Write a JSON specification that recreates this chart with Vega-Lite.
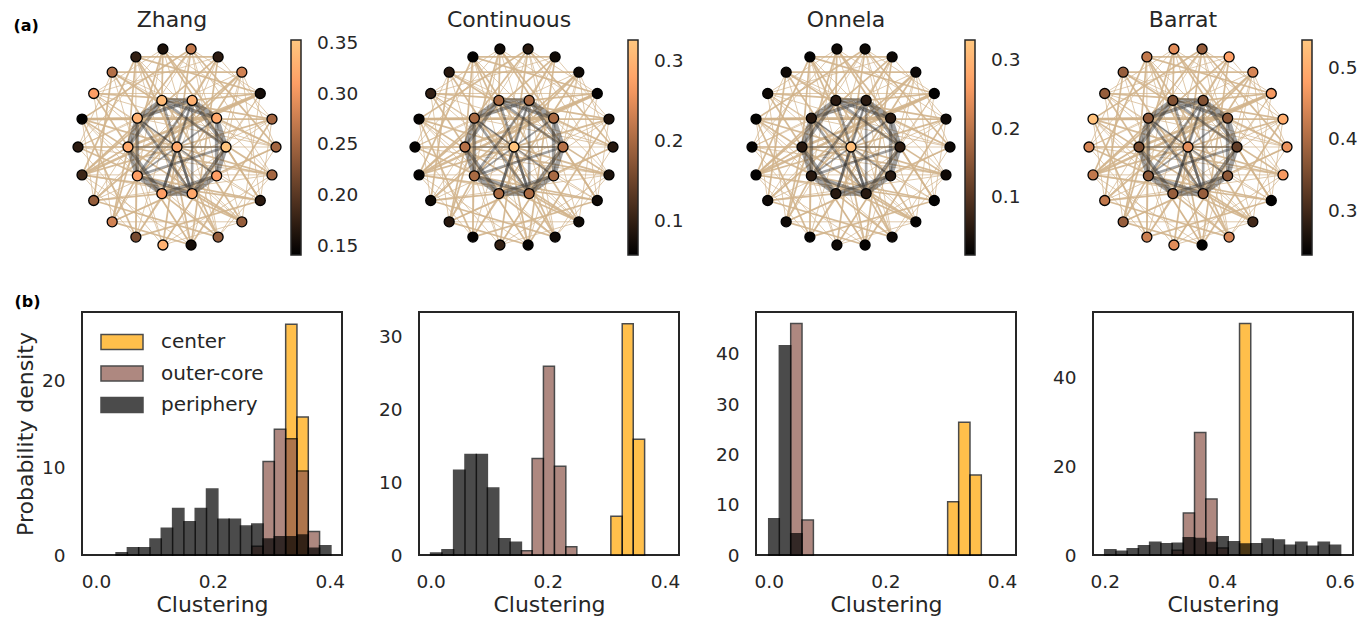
{
  "$schema": "https://vega.github.io/schema/vega-lite/v6.json",
  "background": "white",
  "padding": {"left": 13, "top": 9, "right": 5, "bottom": 5},
  "config": {
    "font": "DejaVu Sans",
    "view": {"stroke": null},
    "title": {"font": "DejaVu Sans", "color": "#262626", "fontWeight": "normal"},
    "axis": {"labelFont": "DejaVu Sans", "titleFont": "DejaVu Sans", "labelFontSize": 18.5, "titleFontSize": 22, "labelColor": "#262626", "titleColor": "#262626", "titleFontWeight": "normal", "ticks": false, "tickSize": 0, "domain": false, "grid": false, "labelPadding": 17, "titlePadding": 4},
    "legend": {"labelFont": "DejaVu Sans", "labelColor": "#262626"}
  },
  "title": {"text": "(a)", "anchor": "start", "frame": "bounds", "fontSize": 16, "fontWeight": "bold", "color": "#000000", "offset": -25},
  "datasets": {
    "nodes": [
      {"id": "o0", "x": 1, "y": 0, "Zhang": 0.25, "Continuous": 0.09, "Onnela": 0.03, "Barrat": 0.46},
      {"id": "o1", "x": 0.9595, "y": 0.2817, "Zhang": 0.25, "Continuous": 0.08, "Onnela": 0.03, "Barrat": 0.5},
      {"id": "o2", "x": 0.8413, "y": 0.5406, "Zhang": 0.155, "Continuous": 0.06, "Onnela": 0.02, "Barrat": 0.47},
      {"id": "o3", "x": 0.6549, "y": 0.7557, "Zhang": 0.28, "Continuous": 0.07, "Onnela": 0.03, "Barrat": 0.44},
      {"id": "o4", "x": 0.4154, "y": 0.9096, "Zhang": 0.17, "Continuous": 0.07, "Onnela": 0.03, "Barrat": 0.48},
      {"id": "o5", "x": 0.1423, "y": 0.9898, "Zhang": 0.27, "Continuous": 0.09, "Onnela": 0.03, "Barrat": 0.38},
      {"id": "o6", "x": -0.1423, "y": 0.9898, "Zhang": 0.16, "Continuous": 0.07, "Onnela": 0.03, "Barrat": 0.45},
      {"id": "o7", "x": -0.4154, "y": 0.9096, "Zhang": 0.175, "Continuous": 0.06, "Onnela": 0.02, "Barrat": 0.42},
      {"id": "o8", "x": -0.6549, "y": 0.7557, "Zhang": 0.26, "Continuous": 0.09, "Onnela": 0.03, "Barrat": 0.38},
      {"id": "o9", "x": -0.8413, "y": 0.5406, "Zhang": 0.31, "Continuous": 0.1, "Onnela": 0.03, "Barrat": 0.38},
      {"id": "o10", "x": -0.9595, "y": 0.2817, "Zhang": 0.143, "Continuous": 0.06, "Onnela": 0.02, "Barrat": 0.53},
      {"id": "o11", "x": -1, "y": 0, "Zhang": 0.17, "Continuous": 0.06, "Onnela": 0.02, "Barrat": 0.44},
      {"id": "o12", "x": -0.9595, "y": -0.2817, "Zhang": 0.18, "Continuous": 0.06, "Onnela": 0.02, "Barrat": 0.42},
      {"id": "o13", "x": -0.8413, "y": -0.5406, "Zhang": 0.24, "Continuous": 0.07, "Onnela": 0.03, "Barrat": 0.42},
      {"id": "o14", "x": -0.6549, "y": -0.7557, "Zhang": 0.28, "Continuous": 0.09, "Onnela": 0.03, "Barrat": 0.38},
      {"id": "o15", "x": -0.4154, "y": -0.9096, "Zhang": 0.22, "Continuous": 0.06, "Onnela": 0.02, "Barrat": 0.43},
      {"id": "o16", "x": -0.1423, "y": -0.9898, "Zhang": 0.33, "Continuous": 0.1, "Onnela": 0.03, "Barrat": 0.45},
      {"id": "o17", "x": 0.1423, "y": -0.9898, "Zhang": 0.155, "Continuous": 0.06, "Onnela": 0.02, "Barrat": 0.24},
      {"id": "o18", "x": 0.4154, "y": -0.9096, "Zhang": 0.24, "Continuous": 0.07, "Onnela": 0.03, "Barrat": 0.44},
      {"id": "o19", "x": 0.6549, "y": -0.7557, "Zhang": 0.24, "Continuous": 0.07, "Onnela": 0.02, "Barrat": 0.3},
      {"id": "o20", "x": 0.8413, "y": -0.5406, "Zhang": 0.17, "Continuous": 0.07, "Onnela": 0.02, "Barrat": 0.24},
      {"id": "o21", "x": 0.9595, "y": -0.2817, "Zhang": 0.25, "Continuous": 0.08, "Onnela": 0.03, "Barrat": 0.47},
      {"id": "i0", "x": 0.495, "y": 0, "Zhang": 0.35, "Continuous": 0.21, "Onnela": 0.06, "Barrat": 0.33},
      {"id": "i1", "x": 0.4005, "y": 0.291, "Zhang": 0.32, "Continuous": 0.2, "Onnela": 0.055, "Barrat": 0.37},
      {"id": "i2", "x": 0.153, "y": 0.4708, "Zhang": 0.33, "Continuous": 0.2, "Onnela": 0.055, "Barrat": 0.36},
      {"id": "i3", "x": -0.153, "y": 0.4708, "Zhang": 0.34, "Continuous": 0.2, "Onnela": 0.055, "Barrat": 0.36},
      {"id": "i4", "x": -0.4005, "y": 0.291, "Zhang": 0.33, "Continuous": 0.2, "Onnela": 0.055, "Barrat": 0.37},
      {"id": "i5", "x": -0.495, "y": 0, "Zhang": 0.32, "Continuous": 0.21, "Onnela": 0.055, "Barrat": 0.35},
      {"id": "i6", "x": -0.4005, "y": -0.291, "Zhang": 0.31, "Continuous": 0.2, "Onnela": 0.055, "Barrat": 0.37},
      {"id": "i7", "x": -0.153, "y": -0.4708, "Zhang": 0.31, "Continuous": 0.2, "Onnela": 0.055, "Barrat": 0.38},
      {"id": "i8", "x": 0.153, "y": -0.4708, "Zhang": 0.32, "Continuous": 0.2, "Onnela": 0.055, "Barrat": 0.38},
      {"id": "i9", "x": 0.4005, "y": -0.291, "Zhang": 0.31, "Continuous": 0.2, "Onnela": 0.055, "Barrat": 0.37},
      {"id": "c", "x": 0, "y": 0, "Zhang": 0.32, "Continuous": 0.32, "Onnela": 0.315, "Barrat": 0.45}
    ],
    "edges": [
      {"s": "o0", "t": "o5", "w": 2, "k": "p"}, {"s": "o0", "t": "o8", "w": 1, "k": "p"}, {"s": "o0", "t": "o14", "w": 2, "k": "p"}, {"s": "o0", "t": "o18", "w": 1, "k": "p"}, {"s": "o0", "t": "i1", "w": 2, "k": "p"}, {"s": "o0", "t": "i4", "w": 1, "k": "p"}, {"s": "o0", "t": "o11", "w": 1, "k": "p"}, {"s": "o0", "t": "o9", "w": 1, "k": "p"},
      {"s": "o1", "t": "o6", "w": 1, "k": "p"}, {"s": "o1", "t": "o10", "w": 2, "k": "p"}, {"s": "o1", "t": "o13", "w": 1, "k": "p"}, {"s": "o1", "t": "o17", "w": 2, "k": "p"}, {"s": "o1", "t": "i3", "w": 2, "k": "p"}, {"s": "o1", "t": "i7", "w": 1, "k": "p"},
      {"s": "o2", "t": "o7", "w": 2, "k": "p"}, {"s": "o2", "t": "o9", "w": 1, "k": "p"}, {"s": "o2", "t": "o12", "w": 3, "k": "p"}, {"s": "o2", "t": "o16", "w": 1, "k": "p"}, {"s": "o2", "t": "o19", "w": 1, "k": "p"}, {"s": "o2", "t": "i5", "w": 3, "k": "p"}, {"s": "o2", "t": "i8", "w": 1, "k": "p"},
      {"s": "o3", "t": "o8", "w": 2, "k": "p"}, {"s": "o3", "t": "o11", "w": 1, "k": "p"}, {"s": "o3", "t": "o15", "w": 2, "k": "p"}, {"s": "o3", "t": "o20", "w": 1, "k": "p"}, {"s": "o3", "t": "i0", "w": 1, "k": "p"}, {"s": "o3", "t": "i6", "w": 2, "k": "p"}, {"s": "o3", "t": "o17", "w": 1, "k": "p"},
      {"s": "o4", "t": "o9", "w": 1, "k": "p"}, {"s": "o4", "t": "o12", "w": 2, "k": "p"}, {"s": "o4", "t": "o14", "w": 1, "k": "p"}, {"s": "o4", "t": "o17", "w": 2, "k": "p"}, {"s": "o4", "t": "i2", "w": 2, "k": "p"}, {"s": "o4", "t": "i7", "w": 1, "k": "p"},
      {"s": "o5", "t": "o10", "w": 2, "k": "p"}, {"s": "o5", "t": "o13", "w": 1, "k": "p"}, {"s": "o5", "t": "o16", "w": 2, "k": "p"}, {"s": "o5", "t": "o19", "w": 1, "k": "p"}, {"s": "o5", "t": "i4", "w": 2, "k": "p"}, {"s": "o5", "t": "i9", "w": 1, "k": "p"},
      {"s": "o6", "t": "o11", "w": 1, "k": "p"}, {"s": "o6", "t": "o14", "w": 2, "k": "p"}, {"s": "o6", "t": "o18", "w": 1, "k": "p"}, {"s": "o6", "t": "o20", "w": 2, "k": "p"}, {"s": "o6", "t": "i1", "w": 2, "k": "p"}, {"s": "o6", "t": "i6", "w": 1, "k": "p"},
      {"s": "o7", "t": "o12", "w": 2, "k": "p"}, {"s": "o7", "t": "o15", "w": 1, "k": "p"}, {"s": "o7", "t": "o19", "w": 2, "k": "p"}, {"s": "o7", "t": "i0", "w": 1, "k": "p"}, {"s": "o7", "t": "i5", "w": 2, "k": "p"},
      {"s": "o8", "t": "o13", "w": 2, "k": "p"}, {"s": "o8", "t": "o16", "w": 1, "k": "p"}, {"s": "o8", "t": "o21", "w": 2, "k": "p"}, {"s": "o8", "t": "i3", "w": 1, "k": "p"}, {"s": "o8", "t": "i8", "w": 2, "k": "p"},
      {"s": "o9", "t": "o14", "w": 1, "k": "p"}, {"s": "o9", "t": "o17", "w": 2, "k": "p"}, {"s": "o9", "t": "o20", "w": 1, "k": "p"}, {"s": "o9", "t": "i2", "w": 2, "k": "p"}, {"s": "o9", "t": "i9", "w": 1, "k": "p"},
      {"s": "o10", "t": "o15", "w": 2, "k": "p"}, {"s": "o10", "t": "o18", "w": 1, "k": "p"}, {"s": "o10", "t": "o21", "w": 2, "k": "p"}, {"s": "o10", "t": "i1", "w": 3, "k": "p"}, {"s": "o10", "t": "i6", "w": 1, "k": "p"},
      {"s": "o11", "t": "o16", "w": 1, "k": "p"}, {"s": "o11", "t": "o19", "w": 2, "k": "p"}, {"s": "o11", "t": "i0", "w": 2, "k": "p"}, {"s": "o11", "t": "i4", "w": 1, "k": "p"},
      {"s": "o12", "t": "o17", "w": 1, "k": "p"}, {"s": "o12", "t": "o20", "w": 2, "k": "p"}, {"s": "o12", "t": "i3", "w": 2, "k": "p"}, {"s": "o12", "t": "i8", "w": 1, "k": "p"},
      {"s": "o13", "t": "o18", "w": 2, "k": "p"}, {"s": "o13", "t": "o21", "w": 1, "k": "p"}, {"s": "o13", "t": "i2", "w": 1, "k": "p"}, {"s": "o13", "t": "i7", "w": 2, "k": "p"},
      {"s": "o14", "t": "o19", "w": 1, "k": "p"}, {"s": "o14", "t": "i5", "w": 2, "k": "p"}, {"s": "o14", "t": "i9", "w": 1, "k": "p"},
      {"s": "o15", "t": "o20", "w": 2, "k": "p"}, {"s": "o15", "t": "i1", "w": 1, "k": "p"}, {"s": "o15", "t": "i4", "w": 2, "k": "p"},
      {"s": "o16", "t": "o21", "w": 1, "k": "p"}, {"s": "o16", "t": "i0", "w": 2, "k": "p"}, {"s": "o16", "t": "i6", "w": 1, "k": "p"},
      {"s": "o17", "t": "i3", "w": 2, "k": "p"}, {"s": "o17", "t": "i5", "w": 1, "k": "p"},
      {"s": "o18", "t": "i2", "w": 1, "k": "p"}, {"s": "o18", "t": "i7", "w": 2, "k": "p"},
      {"s": "o19", "t": "i4", "w": 1, "k": "p"}, {"s": "o19", "t": "i8", "w": 2, "k": "p"},
      {"s": "o20", "t": "i6", "w": 2, "k": "p"}, {"s": "o20", "t": "i9", "w": 1, "k": "p"},
      {"s": "o21", "t": "i1", "w": 1, "k": "p"}, {"s": "o21", "t": "i5", "w": 2, "k": "p"},
      {"s": "o0", "t": "o3", "w": 1, "k": "p"}, {"s": "o1", "t": "o4", "w": 1, "k": "p"}, {"s": "o2", "t": "o5", "w": 1, "k": "p"}, {"s": "o4", "t": "o7", "w": 2, "k": "p"},
      {"s": "o6", "t": "o9", "w": 1, "k": "p"}, {"s": "o8", "t": "o11", "w": 1, "k": "p"}, {"s": "o10", "t": "o13", "w": 1, "k": "p"}, {"s": "o12", "t": "o15", "w": 1, "k": "p"},
      {"s": "o14", "t": "o17", "w": 2, "k": "p"}, {"s": "o16", "t": "o19", "w": 1, "k": "p"}, {"s": "o18", "t": "o21", "w": 1, "k": "p"}, {"s": "o20", "t": "o1", "w": 1, "k": "p"},
      {"s": "o1", "t": "o12", "w": 2, "k": "p"}, {"s": "o3", "t": "o13", "w": 2, "k": "p"}, {"s": "o5", "t": "o21", "w": 1, "k": "p"}, {"s": "o7", "t": "o18", "w": 2, "k": "p"},
      {"s": "o9", "t": "o19", "w": 1, "k": "p"}, {"s": "o11", "t": "o21", "w": 1, "k": "p"}, {"s": "o5", "t": "o15", "w": 1, "k": "p"}, {"s": "o7", "t": "o17", "w": 1, "k": "p"},
      {"s": "o10", "t": "o19", "w": 2, "k": "p"}, {"s": "o12", "t": "o21", "w": 1, "k": "p"},
      {"s": "o2", "t": "i2", "w": 2, "k": "p"}, {"s": "o6", "t": "i3", "w": 2, "k": "p"}, {"s": "o10", "t": "i4", "w": 2, "k": "p"}, {"s": "o14", "t": "i6", "w": 2, "k": "p"},
      {"s": "o18", "t": "i8", "w": 2, "k": "p"}, {"s": "o20", "t": "i0", "w": 2, "k": "p"}, {"s": "o0", "t": "i9", "w": 1, "k": "p"}, {"s": "o12", "t": "i5", "w": 2, "k": "p"},
      {"s": "i0", "t": "i1", "w": 5, "k": "c"}, {"s": "i1", "t": "i2", "w": 5, "k": "c"}, {"s": "i2", "t": "i3", "w": 5, "k": "c"}, {"s": "i3", "t": "i4", "w": 5, "k": "c"}, {"s": "i4", "t": "i5", "w": 5, "k": "c"},
      {"s": "i5", "t": "i6", "w": 5, "k": "c"}, {"s": "i6", "t": "i7", "w": 5, "k": "c"}, {"s": "i7", "t": "i8", "w": 5, "k": "c"}, {"s": "i8", "t": "i9", "w": 5, "k": "c"}, {"s": "i9", "t": "i0", "w": 5, "k": "c"},
      {"s": "i0", "t": "i2", "w": 4, "k": "c"}, {"s": "i1", "t": "i3", "w": 4, "k": "c"}, {"s": "i2", "t": "i4", "w": 4, "k": "c"}, {"s": "i3", "t": "i5", "w": 4, "k": "c"}, {"s": "i4", "t": "i6", "w": 4, "k": "c"},
      {"s": "i5", "t": "i7", "w": 4, "k": "c"}, {"s": "i6", "t": "i8", "w": 4, "k": "c"}, {"s": "i7", "t": "i9", "w": 4, "k": "c"}, {"s": "i8", "t": "i0", "w": 4, "k": "c"}, {"s": "i9", "t": "i1", "w": 4, "k": "c"},
      {"s": "i0", "t": "i5", "w": 1, "k": "c"}, {"s": "i1", "t": "i6", "w": 2, "k": "c"}, {"s": "i2", "t": "i7", "w": 3, "k": "c"}, {"s": "i3", "t": "i8", "w": 3, "k": "c"}, {"s": "i4", "t": "i9", "w": 2, "k": "c"},
      {"s": "i0", "t": "i3", "w": 3, "k": "c"}, {"s": "i2", "t": "i6", "w": 3, "k": "c"}, {"s": "i4", "t": "i8", "w": 3, "k": "c"}, {"s": "i6", "t": "i0", "w": 3, "k": "c"}, {"s": "i8", "t": "i2", "w": 3, "k": "c"},
      {"s": "c", "t": "i0", "w": 1, "k": "c"}, {"s": "c", "t": "i2", "w": 1, "k": "c"}, {"s": "c", "t": "i4", "w": 1, "k": "c"}, {"s": "c", "t": "i5", "w": 1, "k": "c"},
      {"s": "c", "t": "i7", "w": 3, "k": "c"}, {"s": "c", "t": "i8", "w": 3, "k": "c"}
    ],
    "hist": [
      {"p": "Zhang", "g": "center", "x0": 0.3246, "x1": 0.3439, "d": 26.4},
      {"p": "Zhang", "g": "center", "x0": 0.3439, "x1": 0.3633, "d": 15.8},
      {"p": "Zhang", "g": "outer-core", "x0": 0.2665, "x1": 0.2859, "d": 1.0},
      {"p": "Zhang", "g": "outer-core", "x0": 0.2859, "x1": 0.3052, "d": 10.7},
      {"p": "Zhang", "g": "outer-core", "x0": 0.3052, "x1": 0.3246, "d": 14.4},
      {"p": "Zhang", "g": "outer-core", "x0": 0.3246, "x1": 0.3439, "d": 13.3},
      {"p": "Zhang", "g": "outer-core", "x0": 0.3439, "x1": 0.3633, "d": 9.6},
      {"p": "Zhang", "g": "outer-core", "x0": 0.3633, "x1": 0.3826, "d": 2.7},
      {"p": "Zhang", "g": "periphery", "x0": 0.0343, "x1": 0.0537, "d": 0.27},
      {"p": "Zhang", "g": "periphery", "x0": 0.0537, "x1": 0.073, "d": 0.84},
      {"p": "Zhang", "g": "periphery", "x0": 0.073, "x1": 0.0924, "d": 0.84},
      {"p": "Zhang", "g": "periphery", "x0": 0.0924, "x1": 0.1117, "d": 1.83},
      {"p": "Zhang", "g": "periphery", "x0": 0.1117, "x1": 0.1311, "d": 3.05},
      {"p": "Zhang", "g": "periphery", "x0": 0.1311, "x1": 0.1504, "d": 5.33},
      {"p": "Zhang", "g": "periphery", "x0": 0.1504, "x1": 0.1698, "d": 3.81},
      {"p": "Zhang", "g": "periphery", "x0": 0.1698, "x1": 0.1891, "d": 5.33},
      {"p": "Zhang", "g": "periphery", "x0": 0.1891, "x1": 0.2085, "d": 7.54},
      {"p": "Zhang", "g": "periphery", "x0": 0.2085, "x1": 0.2278, "d": 4.08},
      {"p": "Zhang", "g": "periphery", "x0": 0.2278, "x1": 0.2472, "d": 4.08},
      {"p": "Zhang", "g": "periphery", "x0": 0.2472, "x1": 0.2665, "d": 3.31},
      {"p": "Zhang", "g": "periphery", "x0": 0.2665, "x1": 0.2859, "d": 3.54},
      {"p": "Zhang", "g": "periphery", "x0": 0.2859, "x1": 0.3052, "d": 1.83},
      {"p": "Zhang", "g": "periphery", "x0": 0.3052, "x1": 0.3246, "d": 2.1},
      {"p": "Zhang", "g": "periphery", "x0": 0.3246, "x1": 0.3439, "d": 2.1},
      {"p": "Zhang", "g": "periphery", "x0": 0.3439, "x1": 0.3633, "d": 2.29},
      {"p": "Zhang", "g": "periphery", "x0": 0.3633, "x1": 0.3826, "d": 0.76},
      {"p": "Zhang", "g": "periphery", "x0": 0.3826, "x1": 0.402, "d": 1.07},
      {"p": "Continuous", "g": "center", "x0": 0.3077, "x1": 0.3271, "d": 5.32},
      {"p": "Continuous", "g": "center", "x0": 0.3271, "x1": 0.3459, "d": 31.8},
      {"p": "Continuous", "g": "center", "x0": 0.3459, "x1": 0.3653, "d": 15.9},
      {"p": "Continuous", "g": "outer-core", "x0": 0.155, "x1": 0.1733, "d": 0.6},
      {"p": "Continuous", "g": "outer-core", "x0": 0.1733, "x1": 0.1926, "d": 13.26},
      {"p": "Continuous", "g": "outer-core", "x0": 0.1926, "x1": 0.2114, "d": 25.96},
      {"p": "Continuous", "g": "outer-core", "x0": 0.2114, "x1": 0.2308, "d": 12.2},
      {"p": "Continuous", "g": "outer-core", "x0": 0.2308, "x1": 0.2496, "d": 1.15},
      {"p": "Continuous", "g": "periphery", "x0": 0.0, "x1": 0.0194, "d": 0.28},
      {"p": "Continuous", "g": "periphery", "x0": 0.0194, "x1": 0.0393, "d": 0.73},
      {"p": "Continuous", "g": "periphery", "x0": 0.0393, "x1": 0.0587, "d": 11.65},
      {"p": "Continuous", "g": "periphery", "x0": 0.0587, "x1": 0.0781, "d": 13.8},
      {"p": "Continuous", "g": "periphery", "x0": 0.0781, "x1": 0.0969, "d": 13.8},
      {"p": "Continuous", "g": "periphery", "x0": 0.0969, "x1": 0.1163, "d": 9.2},
      {"p": "Continuous", "g": "periphery", "x0": 0.1163, "x1": 0.1357, "d": 2.25},
      {"p": "Continuous", "g": "periphery", "x0": 0.1357, "x1": 0.155, "d": 1.74},
      {"p": "Onnela", "g": "center", "x0": 0.3068, "x1": 0.3257, "d": 10.6},
      {"p": "Onnela", "g": "center", "x0": 0.3257, "x1": 0.3451, "d": 26.4},
      {"p": "Onnela", "g": "center", "x0": 0.3451, "x1": 0.3645, "d": 15.9},
      {"p": "Onnela", "g": "outer-core", "x0": 0.0377, "x1": 0.0571, "d": 46.0},
      {"p": "Onnela", "g": "outer-core", "x0": 0.0571, "x1": 0.0766, "d": 6.95},
      {"p": "Onnela", "g": "periphery", "x0": 0.0, "x1": 0.0182, "d": 7.2},
      {"p": "Onnela", "g": "periphery", "x0": 0.0182, "x1": 0.0377, "d": 41.6},
      {"p": "Onnela", "g": "periphery", "x0": 0.0377, "x1": 0.0571, "d": 4.2},
      {"p": "Barrat", "g": "center", "x0": 0.4296, "x1": 0.4487, "d": 52.3},
      {"p": "Barrat", "g": "outer-core", "x0": 0.3148, "x1": 0.3339, "d": 1.05},
      {"p": "Barrat", "g": "outer-core", "x0": 0.3339, "x1": 0.353, "d": 9.5},
      {"p": "Barrat", "g": "outer-core", "x0": 0.353, "x1": 0.3722, "d": 27.7},
      {"p": "Barrat", "g": "outer-core", "x0": 0.3722, "x1": 0.3913, "d": 12.65},
      {"p": "Barrat", "g": "outer-core", "x0": 0.3913, "x1": 0.4104, "d": 1.6},
      {"p": "Barrat", "g": "periphery", "x0": 0.2, "x1": 0.2191, "d": 1.2},
      {"p": "Barrat", "g": "periphery", "x0": 0.2191, "x1": 0.2383, "d": 0.83},
      {"p": "Barrat", "g": "periphery", "x0": 0.2383, "x1": 0.2574, "d": 1.43},
      {"p": "Barrat", "g": "periphery", "x0": 0.2574, "x1": 0.2765, "d": 2.1},
      {"p": "Barrat", "g": "periphery", "x0": 0.2765, "x1": 0.2957, "d": 2.86},
      {"p": "Barrat", "g": "periphery", "x0": 0.2957, "x1": 0.3148, "d": 2.56},
      {"p": "Barrat", "g": "periphery", "x0": 0.3148, "x1": 0.3339, "d": 2.64},
      {"p": "Barrat", "g": "periphery", "x0": 0.3339, "x1": 0.353, "d": 3.9},
      {"p": "Barrat", "g": "periphery", "x0": 0.353, "x1": 0.3722, "d": 3.7},
      {"p": "Barrat", "g": "periphery", "x0": 0.3722, "x1": 0.3913, "d": 2.8},
      {"p": "Barrat", "g": "periphery", "x0": 0.3913, "x1": 0.4104, "d": 4.14},
      {"p": "Barrat", "g": "periphery", "x0": 0.4104, "x1": 0.4296, "d": 3.0},
      {"p": "Barrat", "g": "periphery", "x0": 0.4296, "x1": 0.4487, "d": 2.5},
      {"p": "Barrat", "g": "periphery", "x0": 0.4487, "x1": 0.4678, "d": 2.56},
      {"p": "Barrat", "g": "periphery", "x0": 0.4678, "x1": 0.487, "d": 3.6},
      {"p": "Barrat", "g": "periphery", "x0": 0.487, "x1": 0.5061, "d": 3.4},
      {"p": "Barrat", "g": "periphery", "x0": 0.5061, "x1": 0.5252, "d": 2.2},
      {"p": "Barrat", "g": "periphery", "x0": 0.5252, "x1": 0.5443, "d": 2.86},
      {"p": "Barrat", "g": "periphery", "x0": 0.5443, "x1": 0.5635, "d": 1.96},
      {"p": "Barrat", "g": "periphery", "x0": 0.5635, "x1": 0.5826, "d": 2.86},
      {"p": "Barrat", "g": "periphery", "x0": 0.5826, "x1": 0.6017, "d": 2.2}
    ]
  },
  "columns": 4,
  "spacing": {"row": 57, "column": 77},
  "bounds": "flush",
  "resolve": {"scale": {"color": "independent", "opacity": "independent", "strokeWidth": "independent", "x": "independent", "y": "independent"}},
  "concat": [
    {
      "width": 180, "height": 215,
      "title": {"text": "Zhang", "fontSize": 22, "offset": 8},
      "resolve": {"scale": {"color": "independent"}},
      "layer": [
        {
          "data": {"name": "edges"},
          "transform": [
            {"lookup": "s", "from": {"data": {"name": "nodes"}, "key": "id", "fields": ["x", "y"]}, "as": ["sx", "sy"]},
            {"lookup": "t", "from": {"data": {"name": "nodes"}, "key": "id", "fields": ["x", "y"]}, "as": ["tx", "ty"]}
          ],
          "mark": {"type": "rule"},
          "encoding": {
            "x": {"field": "sx", "type": "quantitative", "scale": {"domain": [-0.9596, 0.8586], "nice": false, "zero": false}, "axis": null},
            "y": {"field": "sy", "type": "quantitative", "scale": {"domain": [-1.0909, 1.0808], "nice": false, "zero": false}, "axis": null},
            "x2": {"field": "tx"}, "y2": {"field": "ty"},
            "color": {"field": "k", "type": "nominal", "scale": {"domain": ["p", "c"], "range": ["#d2b48c", "#333333"]}, "legend": null},
            "opacity": {"field": "k", "type": "nominal", "scale": {"domain": ["p", "c"], "range": [0.9, 0.45]}, "legend": null},
            "strokeWidth": {"field": "w", "type": "quantitative", "scale": {"domain": [1, 5], "range": [0.8, 4.5]}, "legend": null}
          }
        },
        {
          "data": {"name": "nodes"},
          "mark": {"type": "circle", "size": 100, "stroke": "#000000", "strokeWidth": 1.3, "opacity": 1},
          "encoding": {
            "x": {"field": "x", "type": "quantitative", "axis": null},
            "y": {"field": "y", "type": "quantitative", "axis": null},
            "color": {"field": "Zhang", "type": "quantitative", "scale": {"domain": [0.141, 0.3106, 0.353], "range": ["#000000", "#ff9f65", "#ffc77f"], "interpolate": "rgb"},
              "legend": {"title": null, "direction": "vertical", "orient": "right", "offset": 29, "padding": 0, "gradientLength": 215, "gradientThickness": 10, "gradientStrokeColor": "#262626", "gradientStrokeWidth": 1.5, "labelFontSize": 18.5, "labelOffset": 16, "labelOverlap": false, "values": [0.15, 0.2, 0.25, 0.3, 0.35], "format": ".2f"}}
          }
        }
      ]
    },
    {
      "width": 180, "height": 215,
      "title": {"text": "Continuous", "fontSize": 22, "offset": 8},
      "resolve": {"scale": {"color": "independent"}},
      "layer": [
        {
          "data": {"name": "edges"},
          "transform": [
            {"lookup": "s", "from": {"data": {"name": "nodes"}, "key": "id", "fields": ["x", "y"]}, "as": ["sx", "sy"]},
            {"lookup": "t", "from": {"data": {"name": "nodes"}, "key": "id", "fields": ["x", "y"]}, "as": ["tx", "ty"]}
          ],
          "mark": {"type": "rule"},
          "encoding": {
            "x": {"field": "sx", "type": "quantitative", "scale": {"domain": [-0.9596, 0.8586], "nice": false, "zero": false}, "axis": null},
            "y": {"field": "sy", "type": "quantitative", "scale": {"domain": [-1.0909, 1.0808], "nice": false, "zero": false}, "axis": null},
            "x2": {"field": "tx"}, "y2": {"field": "ty"},
            "color": {"field": "k", "type": "nominal", "scale": {"domain": ["p", "c"], "range": ["#d2b48c", "#333333"]}, "legend": null},
            "opacity": {"field": "k", "type": "nominal", "scale": {"domain": ["p", "c"], "range": [0.9, 0.45]}, "legend": null},
            "strokeWidth": {"field": "w", "type": "quantitative", "scale": {"domain": [1, 5], "range": [0.8, 4.5]}, "legend": null}
          }
        },
        {
          "data": {"name": "nodes"},
          "mark": {"type": "circle", "size": 100, "stroke": "#000000", "strokeWidth": 1.3, "opacity": 1},
          "encoding": {
            "x": {"field": "x", "type": "quantitative", "axis": null},
            "y": {"field": "y", "type": "quantitative", "axis": null},
            "color": {"field": "Continuous", "type": "quantitative", "scale": {"domain": [0.057, 0.2722, 0.326], "range": ["#000000", "#ff9f65", "#ffc77f"], "interpolate": "rgb"},
              "legend": {"title": null, "direction": "vertical", "orient": "right", "offset": 29, "padding": 0, "gradientLength": 215, "gradientThickness": 10, "gradientStrokeColor": "#262626", "gradientStrokeWidth": 1.5, "labelFontSize": 18.5, "labelOffset": 16, "labelOverlap": false, "values": [0.1, 0.2, 0.3], "format": ".1f"}}
          }
        }
      ]
    },
    {
      "width": 180, "height": 215,
      "title": {"text": "Onnela", "fontSize": 22, "offset": 8},
      "resolve": {"scale": {"color": "independent"}},
      "layer": [
        {
          "data": {"name": "edges"},
          "transform": [
            {"lookup": "s", "from": {"data": {"name": "nodes"}, "key": "id", "fields": ["x", "y"]}, "as": ["sx", "sy"]},
            {"lookup": "t", "from": {"data": {"name": "nodes"}, "key": "id", "fields": ["x", "y"]}, "as": ["tx", "ty"]}
          ],
          "mark": {"type": "rule"},
          "encoding": {
            "x": {"field": "sx", "type": "quantitative", "scale": {"domain": [-0.9596, 0.8586], "nice": false, "zero": false}, "axis": null},
            "y": {"field": "sy", "type": "quantitative", "scale": {"domain": [-1.0909, 1.0808], "nice": false, "zero": false}, "axis": null},
            "x2": {"field": "tx"}, "y2": {"field": "ty"},
            "color": {"field": "k", "type": "nominal", "scale": {"domain": ["p", "c"], "range": ["#d2b48c", "#333333"]}, "legend": null},
            "opacity": {"field": "k", "type": "nominal", "scale": {"domain": ["p", "c"], "range": [0.9, 0.45]}, "legend": null},
            "strokeWidth": {"field": "w", "type": "quantitative", "scale": {"domain": [1, 5], "range": [0.8, 4.5]}, "legend": null}
          }
        },
        {
          "data": {"name": "nodes"},
          "mark": {"type": "circle", "size": 100, "stroke": "#000000", "strokeWidth": 1.3, "opacity": 1},
          "encoding": {
            "x": {"field": "x", "type": "quantitative", "axis": null},
            "y": {"field": "y", "type": "quantitative", "axis": null},
            "color": {"field": "Onnela", "type": "quantitative", "scale": {"domain": [0.016, 0.2664, 0.329], "range": ["#000000", "#ff9f65", "#ffc77f"], "interpolate": "rgb"},
              "legend": {"title": null, "direction": "vertical", "orient": "right", "offset": 29, "padding": 0, "gradientLength": 215, "gradientThickness": 10, "gradientStrokeColor": "#262626", "gradientStrokeWidth": 1.5, "labelFontSize": 18.5, "labelOffset": 16, "labelOverlap": false, "values": [0.1, 0.2, 0.3], "format": ".1f"}}
          }
        }
      ]
    },
    {
      "width": 180, "height": 215,
      "title": {"text": "Barrat", "fontSize": 22, "offset": 8},
      "resolve": {"scale": {"color": "independent"}},
      "layer": [
        {
          "data": {"name": "edges"},
          "transform": [
            {"lookup": "s", "from": {"data": {"name": "nodes"}, "key": "id", "fields": ["x", "y"]}, "as": ["sx", "sy"]},
            {"lookup": "t", "from": {"data": {"name": "nodes"}, "key": "id", "fields": ["x", "y"]}, "as": ["tx", "ty"]}
          ],
          "mark": {"type": "rule"},
          "encoding": {
            "x": {"field": "sx", "type": "quantitative", "scale": {"domain": [-0.9596, 0.8586], "nice": false, "zero": false}, "axis": null},
            "y": {"field": "sy", "type": "quantitative", "scale": {"domain": [-1.0909, 1.0808], "nice": false, "zero": false}, "axis": null},
            "x2": {"field": "tx"}, "y2": {"field": "ty"},
            "color": {"field": "k", "type": "nominal", "scale": {"domain": ["p", "c"], "range": ["#d2b48c", "#333333"]}, "legend": null},
            "opacity": {"field": "k", "type": "nominal", "scale": {"domain": ["p", "c"], "range": [0.9, 0.45]}, "legend": null},
            "strokeWidth": {"field": "w", "type": "quantitative", "scale": {"domain": [1, 5], "range": [0.8, 4.5]}, "legend": null}
          }
        },
        {
          "data": {"name": "nodes"},
          "mark": {"type": "circle", "size": 100, "stroke": "#000000", "strokeWidth": 1.3, "opacity": 1},
          "encoding": {
            "x": {"field": "x", "type": "quantitative", "axis": null},
            "y": {"field": "y", "type": "quantitative", "axis": null},
            "color": {"field": "Barrat", "type": "quantitative", "scale": {"domain": [0.238, 0.4788, 0.539], "range": ["#000000", "#ff9f65", "#ffc77f"], "interpolate": "rgb"},
              "legend": {"title": null, "direction": "vertical", "orient": "right", "offset": 29, "padding": 0, "gradientLength": 215, "gradientThickness": 10, "gradientStrokeColor": "#262626", "gradientStrokeWidth": 1.5, "labelFontSize": 18.5, "labelOffset": 16, "labelOverlap": false, "values": [0.3, 0.4, 0.5], "format": ".1f"}}
          }
        }
      ]
    },
    {
      "width": 260, "height": 243,
      "title": {"text": "(b)", "anchor": "start", "frame": "bounds", "fontSize": 16, "fontWeight": "bold", "color": "#000000", "offset": 2},
      "view": {"stroke": "#262626", "strokeWidth": 2},
      "data": {"name": "hist"},
      "transform": [{"filter": {"field": "p", "equal": "Zhang"}}],
      "mark": {"type": "rect", "opacity": 0.7, "stroke": "#000000", "strokeWidth": 1.5},
      "encoding": {
        "x": {"field": "x0", "type": "quantitative", "scale": {"domain": [-0.024, 0.421], "nice": false, "zero": false}, "axis": {"values": [0, 0.2, 0.4], "format": ".1f", "title": "Clustering"}},
        "x2": {"field": "x1"},
        "y": {"field": "d", "type": "quantitative", "scale": {"domain": [0, 27.8], "nice": false}, "axis": {"values": [0, 10, 20], "title": "Probability density"}},
        "y2": {"datum": 0},
        "color": {"field": "g", "type": "nominal", "scale": {"domain": ["center", "outer-core", "periphery"], "range": ["#ffa500", "#8c564b", "#000000"]},
          "legend": {"title": null, "orient": "none", "legendX": 24, "legendY": 14, "padding": 0, "symbolType": "M-1.4,-0.5H1.4V0.5H-1.4Z", "symbolSize": 900, "symbolOpacity": 0.7, "symbolStrokeColor": "#000000", "symbolStrokeWidth": 1.5, "labelFontSize": 20, "labelOffset": 23, "rowPadding": 4.5}}
      }
    },
    {
      "width": 260, "height": 243,
      "view": {"stroke": "#262626", "strokeWidth": 2},
      "data": {"name": "hist"},
      "transform": [{"filter": {"field": "p", "equal": "Continuous"}}],
      "mark": {"type": "rect", "opacity": 0.7, "stroke": "#000000", "strokeWidth": 1.5},
      "encoding": {
        "x": {"field": "x0", "type": "quantitative", "scale": {"domain": [-0.0198, 0.424], "nice": false, "zero": false}, "axis": {"values": [0, 0.2, 0.4], "format": ".1f", "title": "Clustering"}},
        "x2": {"field": "x1"},
        "y": {"field": "d", "type": "quantitative", "scale": {"domain": [0, 33.4], "nice": false}, "axis": {"values": [0, 10, 20, 30], "title": null}},
        "y2": {"datum": 0},
        "color": {"field": "g", "type": "nominal", "scale": {"domain": ["center", "outer-core", "periphery"], "range": ["#ffa500", "#8c564b", "#000000"]}, "legend": null}
      }
    },
    {
      "width": 260, "height": 243,
      "view": {"stroke": "#262626", "strokeWidth": 2},
      "data": {"name": "hist"},
      "transform": [{"filter": {"field": "p", "equal": "Onnela"}}],
      "mark": {"type": "rect", "opacity": 0.7, "stroke": "#000000", "strokeWidth": 1.5},
      "encoding": {
        "x": {"field": "x0", "type": "quantitative", "scale": {"domain": [-0.0218, 0.424], "nice": false, "zero": false}, "axis": {"values": [0, 0.2, 0.4], "format": ".1f", "title": "Clustering"}},
        "x2": {"field": "x1"},
        "y": {"field": "d", "type": "quantitative", "scale": {"domain": [0, 48.3], "nice": false}, "axis": {"values": [0, 10, 20, 30, 40], "title": null}},
        "y2": {"datum": 0},
        "color": {"field": "g", "type": "nominal", "scale": {"domain": ["center", "outer-core", "periphery"], "range": ["#ffa500", "#8c564b", "#000000"]}, "legend": null}
      }
    },
    {
      "width": 260, "height": 243,
      "view": {"stroke": "#262626", "strokeWidth": 2},
      "data": {"name": "hist"},
      "transform": [{"filter": {"field": "p", "equal": "Barrat"}}],
      "mark": {"type": "rect", "opacity": 0.7, "stroke": "#000000", "strokeWidth": 1.5},
      "encoding": {
        "x": {"field": "x0", "type": "quantitative", "scale": {"domain": [0.1801, 0.6228], "nice": false, "zero": false}, "axis": {"values": [0.2, 0.4, 0.6], "format": ".1f", "title": "Clustering"}},
        "x2": {"field": "x1"},
        "y": {"field": "d", "type": "quantitative", "scale": {"domain": [0, 54.9], "nice": false}, "axis": {"values": [0, 20, 40], "title": null}},
        "y2": {"datum": 0},
        "color": {"field": "g", "type": "nominal", "scale": {"domain": ["center", "outer-core", "periphery"], "range": ["#ffa500", "#8c564b", "#000000"]}, "legend": null}
      }
    }
  ]
}
